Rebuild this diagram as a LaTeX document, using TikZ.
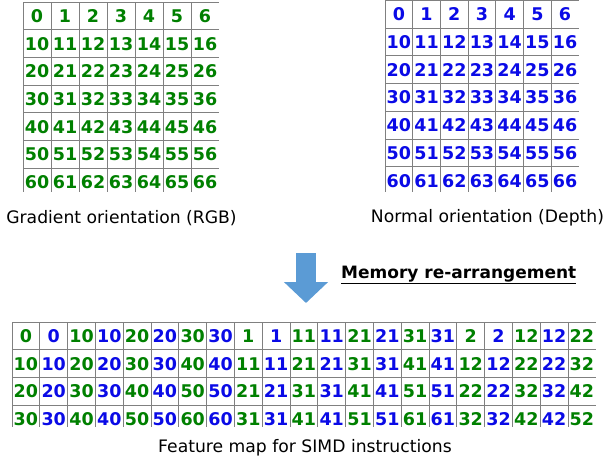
\documentclass[tikz,border=0pt]{standalone}
\usepackage{fontspec}
\setmainfont{DejaVu Sans}
\usepackage{tikz}
\usetikzlibrary{arrows.meta}
\definecolor{cgreen}{RGB}{0,128,0}
\definecolor{cblue}{RGB}{10,10,230}
\definecolor{cgrid}{RGB}{128,128,128}
\definecolor{carrow}{RGB}{91,155,213}

\begin{document}
\begin{tikzpicture}[x=1pt,y=-1pt]
    \tikzset{num/.style={inner sep=0pt,anchor=base,font=\fontsize{17.5}{17.5}\selectfont\bfseries},
             legende/.style={inner sep=0pt,font=\fontsize{17.2}{17.2}\selectfont}}
    \tikzstyle{grille}=[cgrid,line width=0.9pt]
    \tikzstyle{fleche}=[carrow,line width=20pt,-{Triangle[width=43pt,length=21pt]}]
    \useasboundingbox (0,0) rectangle (605,463);

    % gradient orientation table
    \foreach \r in {0,...,6}{
      \draw[grille] (23,2+27.7*\r) -- (219,2+27.7*\r);
      \draw[grille] (23+28*\r,2) -- (23+28*\r,192);
      \foreach \c in {0,...,6}{
        \pgfmathtruncatemacro\v{10*\r+\c}
        \node[num,cgreen] (g-\r-\c) at (23+28*\c+14,2+27.7*\r+13.9+6.4) {\v};
      }
    }
    \node[legende] (capG) at (121.5,218) {Gradient orientation (RGB)};

    % normal orientation table
    \foreach \r in {0,...,6}{
      \draw[grille] (385,0.5+27.7*\r) -- (579,0.5+27.7*\r);
      \draw[grille] (385+27.7*\r,0.5) -- (385+27.7*\r,192);
      \foreach \c in {0,...,6}{
        \pgfmathtruncatemacro\v{10*\r+\c}
        \node[num,cblue] (n-\r-\c) at (385+27.7*\c+13.85,0.5+27.7*\r+13.9+6.4) {\v};
      }
    }
    \node[legende] (capN) at (487.5,218) {Normal orientation (Depth)};

    % memory re-arrangement
    \coordinate (arrtop) at (306,253);
    \coordinate (arrtip) at (306,303);
    \draw[fleche] (arrtop)--(arrtip);
    \node[legende,font=\fontsize{17}{17}\selectfont\bfseries,anchor=west] (mem) at (341,275) {\underline{Memory re-arrangement}};

    % feature map
    \foreach \r in {0,...,3}{
      \draw[grille] (12,322+27.7*\r) -- (596,322+27.7*\r);
    }
    \foreach \c in {0,...,20}{
      \draw[grille] (12+27.8*\c,322) -- (12+27.8*\c,427);
      \foreach \r in {0,...,3}{
        \pgfmathtruncatemacro\v{(\r+int(mod(\c,8)/2))*10+int(\c/8)}
        \ifodd\c \def\col{cblue}\else \def\col{cgreen}\fi
        \node[num,text=\col] (f-\r-\c) at (12+27.8*\c+13.9,322+27.7*\r+13.9+6.4) {\v};
      }
    }
    \node[legende] (capF) at (305,448) {Feature map for SIMD instructions};
\end{tikzpicture}
\end{document}
